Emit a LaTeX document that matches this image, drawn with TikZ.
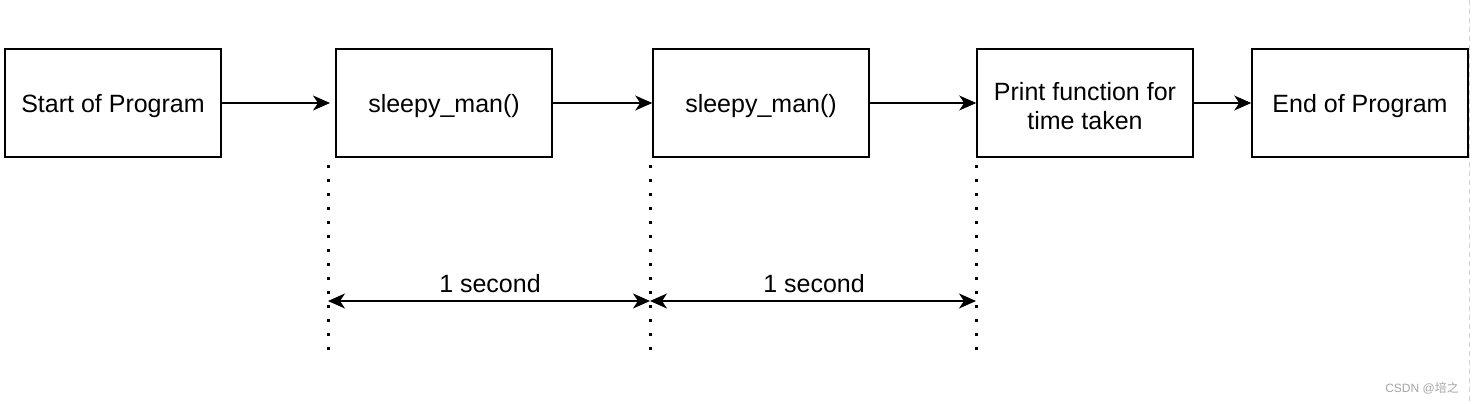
\documentclass[tikz,border=0pt]{standalone}
\usepackage{fontspec}
\setmainfont{Liberation Sans}
\newfontfamily\cjk{Noto Sans CJK SC}
\usetikzlibrary{arrows.meta}
\newcommand{\lowr}[1]{\raisebox{-3pt}[\height][\depth]{#1}}
\begin{document}
\begin{tikzpicture}[x=1pt,y=-1pt,
  box/.style={draw,line width=1.6pt,minimum width=216pt,minimum height=108pt,inner sep=0pt,align=center,font=\fontsize{25}{30}\selectfont},
  tip/.tip={Stealth[length=17pt,width=15pt,inset=5pt]},
  conn/.style={line width=1.5pt,-tip},
  dim/.style={line width=1.5pt,tip-tip},
  dots/.style={line width=3pt,dash pattern=on 3pt off 11pt},
  lbl/.style={font=\fontsize{25}{30}\selectfont,inner sep=0pt}]
\useasboundingbox (0,0) rectangle (1472,404);
\fill[white] (0,0) rectangle (1472,404);
\node[box] (b1) at (113,103) {\lowr{Start of Program}};
\node[box] (b2) at (444,103) {\lowr{sleepy\_man()}};
\node[box] (b3) at (761,103) {\lowr{sleepy\_man()}};
\node[box] (b4) at (1085,103) {\lowr{Print function for}\\[-1pt]\lowr{time taken}};
\node[box] (b5) at (1360,103) {\lowr{End of Program}};
\coordinate (e2) at (330,103);
\draw[conn] (b1.east) -- (e2);
\draw[conn] (b2.east) -- (b3.west);
\draw[conn] (b3.east) -- (b4.west);
\draw[conn] (b4.east) -- (b5.west);
\coordinate (d1t) at (328,165); \coordinate (d1b) at (328,356);
\coordinate (d2t) at (650,165); \coordinate (d2b) at (650,356);
\coordinate (d3t) at (976,165); \coordinate (d3b) at (976,356);
\draw[dots] (d1t) -- (d1b);
\draw[dots] (d2t) -- (d2b);
\draw[dots] (d3t) -- (d3b);
\coordinate (a1) at (328,301); \coordinate (a2) at (650,301); \coordinate (a3) at (976,301);
\draw[dim] (a1) -- (a2);
\draw[dim] (a2) -- (a3);
\node[lbl] (l1) at (490,284) {1 second};
\node[lbl] (l2) at (814,284) {1 second};
\coordinate (gt) at (1469,0); \coordinate (gb) at (1469,404);
\draw[gray!35,line width=1pt,dash pattern=on 5pt off 4pt] (gt) -- (gb);
\node[text=gray!70,font=\fontsize{12}{14}\selectfont,inner sep=0pt] (wm) at (1422,388) {CSDN @\cjk 培之};
\end{tikzpicture}
\end{document}
